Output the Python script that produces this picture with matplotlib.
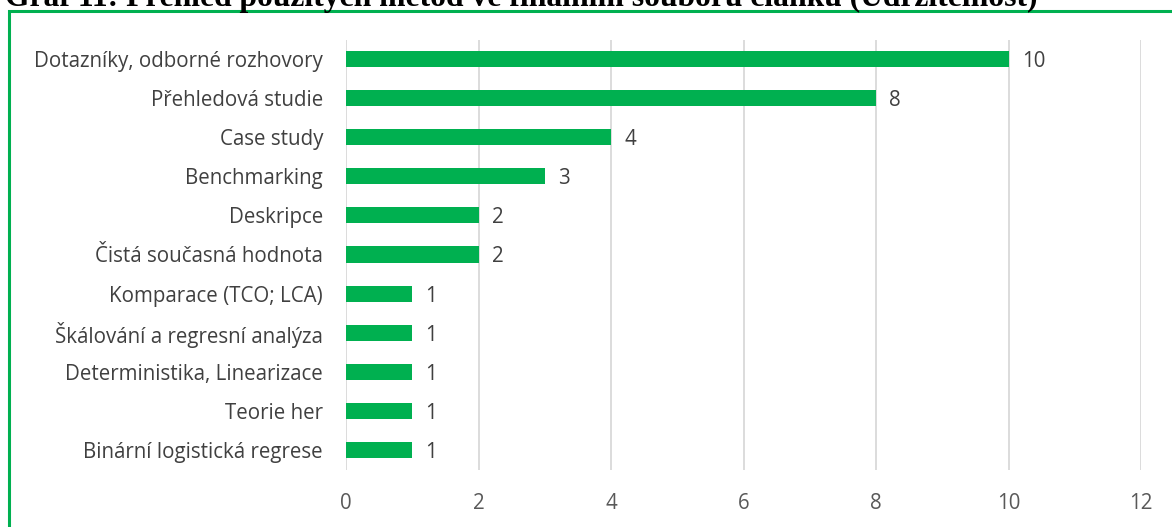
import matplotlib
matplotlib.use("Agg")
import matplotlib.pyplot as plt
from matplotlib.patches import Rectangle

categories = [
    "Dotazníky, odborné rozhovory",
    "Přehledová studie",
    "Case study",
    "Benchmarking",
    "Deskripce",
    "Čistá současná hodnota",
    "Komparace (TCO; LCA)",
    "Škálování a regresní analýza",
    "Deterministika, Linearizace",
    "Teorie her",
    "Binární logistická regrese",
]
counts = [10, 8, 4, 3, 2, 2, 1, 1, 1, 1, 1]
x_ticks = [0, 2, 4, 6, 8, 10, 12]
title = "Graf 11: Přehled použitých metod ve finálním souboru článků (Udržitelnost)"

GREEN = "#00B050"
W, H = 1172, 527
fig = plt.figure(figsize=(W / 100, H / 100), dpi=100)
plt.rcParams["font.family"] = ["Open Sans", "DejaVu Sans"]
FS = 14.8

ax = fig.add_axes([346 / W, 1 - 469.5 / H, (1141 - 346) / W, 430 / H])
ypos = list(range(len(categories)))[::-1]
ax.barh(ypos, counts, height=0.41, color=GREEN, zorder=3)
for y, v in zip(ypos, counts):
    ax.text(v + 0.2, y, str(v), va="center_baseline", ha="left",
            fontsize=FS, color="#404040")

ax.set_xlim(0, 12)
ax.set_ylim(-0.5, len(categories) - 0.5)
ax.set_xticks(x_ticks)
ax.set_xticklabels([str(t) for t in x_ticks], fontsize=FS, color="#595959")
ax.set_yticks(ypos)
ax.set_yticklabels(categories, fontsize=FS, color="#404040")
for lbl in ax.get_yticklabels():
    lbl.set_verticalalignment("center_baseline")
ax.tick_params(axis="both", length=0)
ax.tick_params(axis="x", pad=17)
ax.tick_params(axis="y", pad=16.5)
ax.grid(axis="x", color="#D9D9D9", linewidth=1.3, zorder=0)
for s in ax.spines.values():
    s.set_visible(False)

# green frame around the chart area
fig.patches.append(Rectangle((9.5 / W, -0.1), 1.2, 1 - 11 / H + 0.1,
                             transform=fig.transFigure, fill=False,
                             edgecolor=GREEN, linewidth=2.2))

fig.text(5 / W, 1 - 6 / H, title, family="Liberation Serif", fontweight="bold",
         fontsize=22.8, va="baseline", ha="left", color="black")

fig.savefig("out.png", dpi=100)
